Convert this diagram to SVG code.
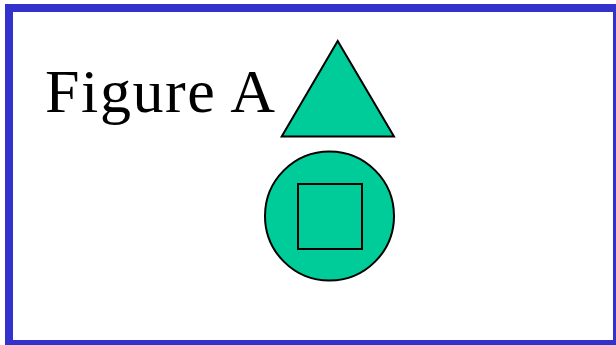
<svg xmlns="http://www.w3.org/2000/svg" width="616" height="345" viewBox="0 0 616 345">
<style>
.shape{fill:#00CC99;stroke:#000;stroke-width:2}
.lbl{font-family:"Liberation Serif","Times New Roman",serif;font-size:62px;letter-spacing:1.6px;fill:#000}
</style>
<rect x="0" y="0" width="616" height="345" fill="#fff"/>
<rect x="9" y="8" width="608" height="336" fill="none" stroke="#3333CC" stroke-width="8"/>
<g id="label"><text class="lbl" x="45" y="111.5">Figure A</text></g>
<g id="triangle"><polygon class="shape" points="337.7,41 281.7,136.5 394,136.5"/></g>
<g id="circle"><circle class="shape" cx="329.5" cy="216" r="64.5"/></g>
<g id="square"><rect class="shape" x="298" y="184" width="64" height="65"/></g>
<g id="connectors"></g>
</svg>
